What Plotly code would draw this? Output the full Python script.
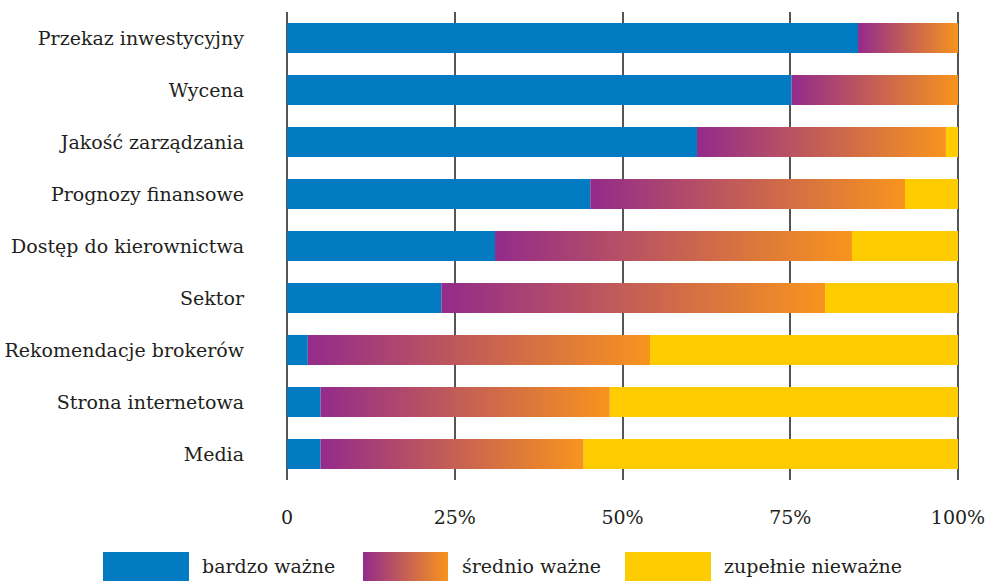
import plotly.graph_objects as go

categories = ["Przekaz inwestycyjny", "Wycena", "Jakość zarządzania", "Prognozy finansowe",
              "Dostęp do kierownictwa", "Sektor", "Rekomendacje brokerów",
              "Strona internetowa", "Media"]
bardzo_wazne = [85.1, 75.2, 61.1, 45.2, 31.0, 23.0, 3.1, 5.0, 5.0]
srednio_wazne = [14.9, 24.8, 37.1, 46.9, 53.2, 57.2, 51.0, 43.1, 39.2]
zupelnie_niewazne = [0.0, 0.0, 1.8, 7.9, 15.8, 19.8, 45.9, 51.9, 55.8]
tick_vals = [0, 25, 50, 75, 100]
tick_text = ["0", "25%", "50%", "75%", "100%"]
legend_labels = ["bardzo ważne", "średnio ważne", "zupełnie nieważne"]

BLUE = "#027BC3"
PURPLE = "#932B8B"
ORANGE = "#F7941D"
YELLOW = "#FECC00"
TEXT = "#231F20"
FONT = "DejaVu Serif"
W, H = 990, 581
BAR_W = 0.58
FS = 19

n = len(categories)
ypos = [n - 1 - i for i in range(n)]

fig = go.Figure()

fig.add_trace(go.Bar(x=bardzo_wazne, y=ypos, base=0, orientation="h", width=BAR_W,
                     marker=dict(color=BLUE, line=dict(width=0)), name=legend_labels[0]))

for b, m, p in zip(bardzo_wazne, srednio_wazne, ypos):
    h = BAR_W / 2
    fig.add_trace(go.Scatter(x=[b, b + m, b + m, b, b], y=[p - h, p - h, p + h, p + h, p - h],
                             mode="lines", line=dict(width=0), fill="toself",
                             fillgradient=dict(type="horizontal",
                                               colorscale=[[0, PURPLE], [1, ORANGE]]),
                             hoverinfo="skip", name=legend_labels[1]))

fig.add_trace(go.Bar(x=zupelnie_niewazne, y=ypos,
                     base=[b + m for b, m in zip(bardzo_wazne, srednio_wazne)],
                     orientation="h", width=BAR_W,
                     marker=dict(color=YELLOW, line=dict(width=0)), name=legend_labels[2]))

# custom legend (pixel coordinates on an auxiliary axis pair)
leg_boxes = [(103, 189, BLUE), (363, 448, None), (625, 711, YELLOW)]
leg_text_x = [200, 460, 722]
for (x0, x1, col) in leg_boxes:
    kw = dict(fillcolor=col) if col else dict(
        fillgradient=dict(type="horizontal", colorscale=[[0, PURPLE], [1, ORANGE]]))
    fig.add_trace(go.Scatter(x=[x0, x1, x1, x0, x0], y=[552, 552, 582, 582, 552],
                             mode="lines", line=dict(width=0), fill="toself",
                             xaxis="x2", yaxis="y2", hoverinfo="skip", **kw))

annotations = []
for tx, lab in zip(leg_text_x, legend_labels):
    annotations.append(dict(x=tx / W, y=(H - 566) / H, xref="paper", yref="paper",
                            text=lab, showarrow=False, xanchor="left", yanchor="middle",
                            font=dict(family=FONT, size=FS, color=TEXT)))

fig.update_layout(
    width=W, height=H,
    margin=dict(l=0, r=0, t=0, b=0),
    paper_bgcolor="white", plot_bgcolor="rgba(0,0,0,0)",
    showlegend=False, barmode="overlay",
    font=dict(family=FONT, size=FS, color=TEXT),
    xaxis=dict(domain=[286 / W, 959 / W], range=[-0.15, 100.15], tickvals=tick_vals,
               ticktext=tick_text, showgrid=True, gridcolor="#555555", gridwidth=1.5,
               zeroline=False, showline=False, ticks="", ticklabelstandoff=24,
               tickfont=dict(family=FONT, size=FS, color=TEXT), automargin=False,
               fixedrange=True),
    yaxis=dict(domain=[(H - 480) / H, (H - 12) / H], range=[-0.5, n - 0.5],
               tickvals=ypos, ticktext=categories, showgrid=False, zeroline=False,
               showline=False, ticks="", ticklabelstandoff=41,
               tickfont=dict(family=FONT, size=FS, color=TEXT), automargin=False,
               fixedrange=True),
    xaxis2=dict(domain=[0, 1], range=[0, W], visible=False, fixedrange=True),
    yaxis2=dict(domain=[0, 1], range=[H, 0], visible=False, fixedrange=True),
    annotations=annotations,
)

fig.write_html("out.html")
